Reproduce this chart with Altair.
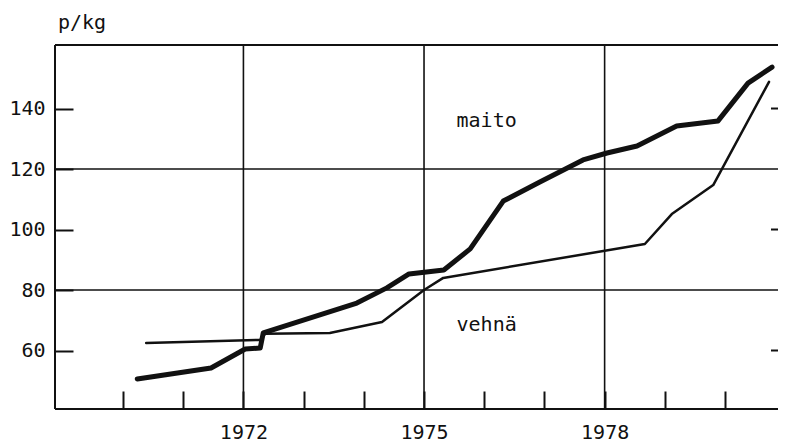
import altair as alt
import pandas as pd

# ---- data ----
maito_years = [1970.236, 1971.462, 1972.030, 1972.279, 1972.329, 1973.884, 1974.382, 1974.751,
               1975.329, 1975.767, 1976.316, 1976.924, 1977.641, 1978.040, 1978.538, 1979.196,
               1979.884, 1980.382, 1980.781]
maito_values = [50.6, 54.2, 60.5, 60.8, 65.8, 75.7, 80.7, 85.3,
                86.6, 93.6, 109.4, 115.7, 123.0, 125.3, 127.6, 134.2,
                135.9, 148.4, 153.7]
vehna_years = [1970.385, 1972.279, 1972.359, 1973.435, 1974.302, 1975.00, 1975.319,
               1978.668, 1979.116, 1979.804, 1980.731]
vehna_values = [62.5, 63.5, 65.5, 65.8, 69.4, 80.0, 84.0,
                95.2, 105.1, 114.7, 148.8]

series_names = ["maito", "vehnä"]
label_years = [1975.54, 1975.54]
label_values = [133.9, 66.4]

unit_label = "p/kg"
y_tick_values = [60, 80, 100, 120, 140]
y_side_ticks = [60, 100, 140]
y_grid_values = [80, 120]
x_tick_years = list(range(1970, 1981))
x_labeled_years = [1972, 1975, 1978]

# ---- layout ----
W, H = 723, 364
FONT = "DejaVu Sans Mono"
INK = "#111111"

x_scale = alt.Scale(domain=[1968.87, 1980.88], nice=False, zero=False)
y_scale = alt.Scale(domain=[40.66, 161.0], nice=False, zero=False)

lines_df = pd.DataFrame(
    {"year": maito_years + vehna_years,
     "value": maito_values + vehna_values,
     "series": [series_names[0]] * len(maito_years) + [series_names[1]] * len(vehna_years)}
)
labels_df = pd.DataFrame({"name": series_names, "year": label_years, "value": label_values})
xgrid_df = pd.DataFrame({"year": x_labeled_years})
ygrid_df = pd.DataFrame({"value": y_grid_values})
side_df = pd.DataFrame({"value": y_side_ticks})
one = pd.DataFrame({"k": [0]})

label_expr = " || ".join(f"datum.value == {y}" for y in x_labeled_years)
x_axis = alt.Axis(values=x_tick_years, offset=-18, tickSize=18, tickWidth=2, tickColor=INK,
                  domain=False, grid=False, labelPadding=13, title=None,
                  labelExpr=f"({label_expr}) ? format(datum.value, 'd') : ''",
                  labelOverlap=False)
y_axis = alt.Axis(values=y_tick_values, offset=-18, tickSize=18, tickWidth=2, tickColor=INK,
                  domain=False, grid=False, labelPadding=10, title=None)

lines = alt.Chart(lines_df).mark_line(color=INK, strokeJoin="round", strokeCap="round").encode(
    x=alt.X("year:Q", scale=x_scale, axis=x_axis),
    y=alt.Y("value:Q", scale=y_scale, axis=y_axis),
    detail="series:N",
    size=alt.Size("series:N", scale=alt.Scale(domain=series_names, range=[5, 2.5]), legend=None),
)

xgrid = alt.Chart(xgrid_df).mark_rule(color=INK, strokeWidth=1.6).encode(
    x=alt.X("year:Q", scale=x_scale), y=alt.value(0), y2=alt.value(H))
ygrid = alt.Chart(ygrid_df).mark_rule(color=INK, strokeWidth=1.6).encode(
    y=alt.Y("value:Q", scale=y_scale), x=alt.value(0), x2=alt.value(W))
side_ticks = alt.Chart(side_df).mark_rule(color=INK, strokeWidth=2).encode(
    y=alt.Y("value:Q", scale=y_scale), x=alt.value(W - 7), x2=alt.value(W))

frame_top = alt.Chart(one).mark_rule(color=INK, strokeWidth=2).encode(
    x=alt.value(0), x2=alt.value(W), y=alt.value(0))
frame_left = alt.Chart(one).mark_rule(color=INK, strokeWidth=2).encode(
    x=alt.value(0), y=alt.value(0), y2=alt.value(H))
frame_bottom = alt.Chart(one).mark_rule(color=INK, strokeWidth=2).encode(
    x=alt.value(0), x2=alt.value(W), y=alt.value(H))

series_text = alt.Chart(labels_df).mark_text(
    font=FONT, fontSize=20, color=INK, align="left", baseline="alphabetic").encode(
    x=alt.X("year:Q", scale=x_scale), y=alt.Y("value:Q", scale=y_scale), text="name:N")

unit_text = alt.Chart(one).mark_text(
    font=FONT, fontSize=20, color=INK, align="left", baseline="alphabetic").encode(
    x=alt.value(3), y=alt.value(-16), text=alt.value(unit_label))

chart = alt.layer(
    xgrid, ygrid, side_ticks, frame_top, frame_left, frame_bottom,
    lines, series_text, unit_text
).properties(
    width=W, height=H,
    autosize=alt.AutoSizeParams(type="none"),
    padding={"left": 47, "top": 37, "right": 0, "bottom": 35},
    background="white",
).configure_view(stroke=None).configure_axis(
    labelFont=FONT, labelFontSize=20, labelColor=INK
)

chart.save("out.html", embed_options={"renderer": "svg", "actions": False})
